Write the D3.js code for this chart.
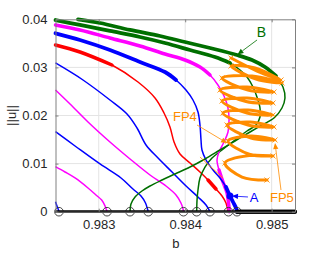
<!DOCTYPE html>
<html><head><meta charset="utf-8">
<script src="https://cdn.jsdelivr.net/npm/d3@7"></script>
<style>
body{margin:0;background:#fff}
svg{display:block}
text{font-family:"Liberation Sans",Arial,Helvetica,sans-serif}
</style>
</head><body>
<svg id="c" width="327" height="253"></svg>
<script>
// ---- axis ticks ----
const xTicks = [0.983, 0.984, 0.985];
const yTicks = [0, 0.01, 0.02, 0.03, 0.04];

// ---- branches: [b, ||u||, stable(1)/unstable(0)] ----
const blue1 = [[0.98250,0.00208,0],[0.982517,0.00119,0],[0.982533,0.00046,0],[0.982540,0,0]];
const magenta1 = [[0.98250,0.00936,0],[0.98261,0.00825,0],[0.982726,0.00701,0],[0.982876,0.00493,0],[0.982968,0.00347,0],[0.983034,0.00243,0],[0.983073,0.00119,0],[0.983090,0.00035,0],[0.983096,0,0]];
const blue2 = [[0.98250,0.01663,0],[0.982726,0.01366,0],[0.983015,0.00992,0],[0.983258,0.00701,0],[0.983396,0.00472,0],[0.983489,0.00326,0],[0.983541,0.00181,0],[0.983564,0.00056,0],[0.983573,0,0]];
const magenta2 = [[0.98250,0.02530,0],[0.982668,0.02239,0],[0.982876,0.01865,0],[0.983130,0.01449,0],[0.983362,0.01096,0],[0.983593,0.00763,0],[0.983778,0.00534,0],[0.983894,0.00347,0],[0.983951,0.00181,0],[0.983974,0.00067,0],[0.983980,0,0]];
const blue3 = [[0.98250,0.03092,0],[0.982818,0.02738,0],[0.983130,0.02322,0],[0.983327,0.02031,0],[0.983443,0.01740,0],[0.983547,0.01387,0],[0.983686,0.01116,0],[0.983848,0.00825,0],[0.984010,0.00534,0],[0.984148,0.00306,0],[0.984241,0.00139,0],[0.984287,0,0]];
const red = [[0.98250,0.03466,1],[0.982783,0.03320,1],[0.983153,0.03050,1],[0.983454,0.02696,0],[0.983651,0.02364,0],[0.983755,0.02052,0],[0.983824,0.01761,0],[0.983871,0.01449,0],[0.983940,0.01200,0],[0.984056,0.01012,0],[0.984171,0.00825,0],[0.984264,0.00659,1],[0.984356,0.00472,1],[0.984426,0.00326,0],[0.984472,0.00181,0],[0.984495,0,0]];
const blue4 = [[0.98250,0.03709,1],[0.982783,0.03570,1],[0.983130,0.03362,1],[0.983477,0.03112,1],[0.983766,0.02904,1],[0.983894,0.02738,1],[0.984009,0.02530,0],[0.984090,0.02322,0],[0.984148,0.02073,0],[0.984171,0.01802,0],[0.984183,0.01491,0],[0.984194,0.01283,0],[0.984241,0.01075,0],[0.984322,0.00867,0],[0.984402,0.00701,0],[0.984472,0.00514,1],[0.984518,0.00326,1],[0.984553,0.00202,1],[0.984588,0.00077,1],[0.984599,0,1]];
const magenta3 = [[0.98250,0.03882,1],[0.982783,0.03778,1],[0.983130,0.03611,1],[0.983477,0.03445,1],[0.983766,0.03279,1],[0.983998,0.03154,1],[0.984171,0.03008,1],[0.984287,0.02842,1],[0.984379,0.02634,0],[0.984449,0.02405,0],[0.984495,0.02156,0],[0.984507,0.01906,0],[0.984495,0.01657,0],[0.984449,0.01449,0],[0.984391,0.01241,0],[0.984368,0.01075,0],[0.984391,0.00867,1],[0.984437,0.00617,1],[0.984484,0.00389,1],[0.984500,0.00202,1],[0.984510,0,1]];
const greenOuter = [[0.982760,0.04000,1],[0.983015,0.03923,1],[0.983362,0.03778,1],[0.983709,0.03653,1],[0.983998,0.03528,1],[0.984287,0.03403,1],[0.984599,0.03258,1],[0.984773,0.03154,1],[0.984923,0.03008,1],[0.985050,0.02821,1],[0.985131,0.02593,0],[0.985154,0.02364,0],[0.985119,0.02156,0],[0.985027,0.01948,0],[0.984888,0.01802,0],[0.984750,0.01657,0],[0.984576,0.01470,0],[0.984402,0.01283,0],[0.984229,0.01096,0],[0.984056,0.00929,0],[0.983882,0.00784,0],[0.983732,0.00659,0],[0.983593,0.00534,0],[0.983500,0.00430,0],[0.983420,0.00306,0],[0.983373,0.00160,0],[0.983362,0,0]];
const greenInner = [[0.98250,0.03985,1],[0.982783,0.03882,1],[0.983130,0.03757,1],[0.983477,0.03632,1],[0.983766,0.03507,1],[0.984056,0.03362,1],[0.984345,0.03216,1],[0.984518,0.03092,1],[0.984634,0.02946,0],[0.984715,0.02800,0],[0.984784,0.02593,0],[0.984830,0.02385,0],[0.984865,0.02156,0],[0.984865,0.01969,0],[0.984819,0.01802,0],[0.984715,0.01678,0],[0.984576,0.01491,0],[0.984426,0.01283,0],[0.984310,0.01116,0],[0.984229,0.00929,0],[0.984171,0.00701,0],[0.984148,0.00451,0],[0.984137,0.00243,0],[0.984133,0,0]];
const zeroBranch = [[0.98250,0,0],[0.984599,0,1],[0.98527,0,1]];

// fold curves: [b, ||u||, fold point marker(1)]
const fp5 = [[0.984530,0.03195,1],[0.984831,0.02925,0],[0.985108,0.02738,1],[0.984807,0.02988,0],[0.984530,0.03029,1],[0.984819,0.02759,0],[0.985120,0.02676,1],[0.984773,0.02821,0],[0.984426,0.02780,1],[0.984726,0.02530,0],[0.985027,0.02489,1],[0.984715,0.02593,0],[0.984403,0.02530,1],[0.984703,0.02291,0],[0.985016,0.02260,1],[0.984715,0.02364,0],[0.984426,0.02301,1],[0.984715,0.02052,0],[0.985016,0.02010,1],[0.984726,0.02114,0],[0.984437,0.02052,1],[0.984726,0.01802,0],[0.985027,0.01761,1],[0.984750,0.01865,0],[0.984484,0.01802,1],[0.984761,0.01532,0],[0.985039,0.01491,1],[0.984761,0.01574,0],[0.984495,0.01470,1],[0.984750,0.01189,0],[0.985016,0.01158,1],[0.984738,0.01168,0],[0.984460,0.01012,1],[0.984657,0.00721,0],[0.984946,0.00659,1]];
const fp4 = [[0.984171,0.01137],[0.984310,0.00909],[0.984437,0.00701]];

// bifurcation points on ||u||=0
const bifB = [0.982540,0.983096,0.983362,0.983573,0.983980,0.984133,0.984287,0.984500,0.984599];
// special point A on blue branch
const pointA = [0.984518,0.00326];

// annotations
const labelText = ['B','A','FP4','FP5'];
const labelB = [0.984883,0.984796,0.983859,0.984981];
const labelU = [0.03632,0.00202,0.01886,0.00202];
const arrowFrom = [[0.984831,0.03570],[0.984726,0.00306],[0.984137,0.01802],[0.985108,0.00451]];
const arrowTo   = [[0.984605,0.03268],[0.984541,0.00326],[0.984484,0.01428],[0.985039,0.01428]];

// ---- drawing ----
const BLUE='#0000ff', MAG='#ff00ff', RED='#ff0000', GRN='#006f00', ORG='#ff8c00', INK='#262626';
const svg = d3.select('#c');
const L=55.5, R=295, T=19.3, B=211.7;
const x = d3.scaleLinear().domain([0.9825,0.98527]).range([L,R]);
const y = d3.scaleLinear().domain([0,0.04]).range([B,T]);

// grid
const grid = svg.append('g').attr('stroke','#e4e4e4').attr('stroke-width',1);
xTicks.forEach(t=>grid.append('line').attr('x1',x(t)).attr('x2',x(t)).attr('y1',T).attr('y2',B));
yTicks.filter(t=>t>0&&t<0.04).forEach(t=>grid.append('line').attr('x1',L).attr('x2',R).attr('y1',y(t)).attr('y2',y(t)));

const lineGen = d3.line().x(d=>x(d[0])).y(d=>y(d[1])).curve(d3.curveCatmullRom.alpha(0.5));
const plot = svg.append('g');

function branch(pts,color,thin,thick){
  plot.append('path').attr('d',lineGen(pts)).attr('fill','none').attr('stroke',color)
    .attr('stroke-width',thin).attr('stroke-linejoin','round');
  let run=[];
  const flush=()=>{ if(run.length>1) plot.append('path').attr('d',lineGen(run)).attr('fill','none')
      .attr('stroke',color).attr('stroke-width',thick).attr('stroke-linecap','round').attr('stroke-linejoin','round'); run=[]; };
  pts.forEach(p=>{ if(p[2]) run.push(p); else flush(); });
  flush();
}

branch(blue1,BLUE,1.5,3.5);
branch(magenta1,MAG,1.5,3.5);
branch(blue2,BLUE,1.5,3.5);
branch(magenta2,MAG,1.5,3.5);
branch(blue3,BLUE,1.5,3.5);
branch(red,RED,1.5,3.5);
branch(greenInner,GRN,1.5,3.8);
branch(magenta3,MAG,1.5,3.5);
branch(blue4,BLUE,1.5,3.8);
branch(greenOuter,GRN,1.5,3.8);

// fold curves
plot.append('path').attr('d',lineGen(fp4)).attr('fill','none').attr('stroke',ORG).attr('stroke-width',1);
plot.append('path').attr('d',lineGen(fp5)).attr('fill','none').attr('stroke',ORG).attr('stroke-width',3)
  .attr('stroke-linejoin','round').attr('stroke-linecap','round');
plot.selectAll('path.xm').data(fp5.filter(d=>d[2])).join('path').attr('class','xm')
  .attr('transform',d=>`translate(${x(d[0])},${y(d[1])})`)
  .attr('d','M-2.5,-2.5L2.5,2.5M-2.5,2.5L2.5,-2.5').attr('stroke',ORG).attr('stroke-width',0.9).attr('fill','none');

// point A
plot.append('circle').attr('cx',x(pointA[0])).attr('cy',y(pointA[1])).attr('r',3.5).attr('fill',BLUE);

// trivial branch
branch(zeroBranch,'#000',2.2,4);
plot.selectAll('circle.bif').data(bifB).join('circle').attr('class','bif')
  .attr('cx',d=>x(d)).attr('cy',y(0)).attr('r',4.3).attr('fill','none').attr('stroke','#333').attr('stroke-width',0.9);

// axes
const axG = svg.append('g').attr('font-size',13).attr('fill',INK);
const ax = (g)=>{ g.select('.domain').attr('stroke','#808080'); g.selectAll('.tick line').attr('stroke','#808080');
  g.selectAll('text').attr('fill',INK).attr('font-family','"Liberation Sans",Arial,sans-serif').attr('font-size',13); };
axG.append('g').attr('transform',`translate(${L},0)`)
  .call(d3.axisLeft(y).tickValues(yTicks).tickFormat(d=>d===0?'0':d3.format('.2f')(d)).tickSizeInner(-3).tickSizeOuter(0).tickPadding(8)).call(ax);
axG.append('g').attr('transform',`translate(0,${B})`)
  .call(d3.axisBottom(x).tickValues(xTicks).tickFormat(d3.format('.3f')).tickSizeInner(-3).tickSizeOuter(0).tickPadding(8)).call(ax);
axG.append('g').attr('transform',`translate(${R},0)`)
  .call(d3.axisRight(y).tickValues(yTicks).tickFormat('').tickSizeInner(-3).tickSizeOuter(0)).call(ax);
axG.append('g').attr('transform',`translate(0,${T})`)
  .call(d3.axisTop(x).tickValues(xTicks).tickFormat('').tickSizeInner(-3).tickSizeOuter(0)).call(ax);
// redraw black trivial branch on top of bottom axis
branch(zeroBranch,'#000',2.2,4);

// axis labels
svg.append('text').attr('x',(L+R)/2+0.5).attr('y',247.5).attr('text-anchor','middle').attr('font-size',13).attr('fill',INK).text('b');
svg.append('text').attr('transform',`translate(16,${(T+B)/2}) rotate(-90)`).attr('text-anchor','middle').attr('font-size',13).attr('fill',INK).text('||u||');

// annotations
const annColor = [GRN,BLUE,ORG,ORG];
const annAnchor = ['middle','middle','start','start'];
labelText.forEach((t,i)=>{
  svg.append('text').attr('x',x(labelB[i])).attr('y',y(labelU[i])).attr('text-anchor',annAnchor[i])
    .attr('font-size',i===0?14:13).attr('fill',annColor[i]).text(t);
});
arrowFrom.forEach((f,i)=>{
  const x1=x(f[0]), y1=y(f[1]), x2=x(arrowTo[i][0]), y2=y(arrowTo[i][1]);
  const a=Math.atan2(y2-y1,x2-x1), hl=6, hw=2.6;
  const bx=x2-hl*Math.cos(a), by=y2-hl*Math.sin(a);
  svg.append('line').attr('x1',x1).attr('y1',y1).attr('x2',bx).attr('y2',by).attr('stroke',annColor[i]).attr('stroke-width',0.8);
  svg.append('path').attr('d',`M${x2},${y2}L${bx-hw*Math.sin(a)},${by+hw*Math.cos(a)}L${bx+hw*Math.sin(a)},${by-hw*Math.cos(a)}Z`).attr('fill',annColor[i]);
});
</script>
</body></html>
